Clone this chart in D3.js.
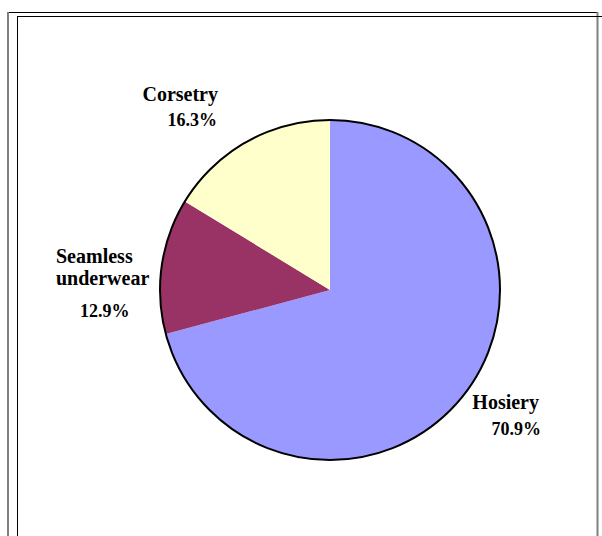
<!DOCTYPE html>
<html>
<head>
    <meta charset="utf-8">
    <script src="https://cdn.jsdelivr.net/npm/d3@7"></script>
    <style>
        body {
            margin: 0;
            background: #fff;
        }
        .label {
            font-family: "Liberation Serif", "Times New Roman", serif;
            font-weight: bold;
            font-size: 20px;
            fill: #000;
        }
        .label.pct {
            font-size: 18px;
        }
    </style>
</head>
<body>
<script>
    // data
    var categories = ["Hosiery", "Seamless underwear", "Corsetry"];
    var shares = [70.9, 12.9, 16.3];
    var colors = ["#9999ff", "#993366", "#ffffcc"];

    // label lines per slice (text only)
    var labelLines = [
        ["Hosiery", "70.9%"],
        ["Seamless", "underwear", "12.9%"],
        ["Corsetry", "16.3%"]
    ];

    var width = 602, height = 536;
    var cx = 330, cy = 290, radius = 170;

    // label placement relative to pie centre, one entry per line
    var labelLayout = [
        [{dx: 209, dy: 119, anchor: "end"}, {dx: 211, dy: 145, anchor: "end"}],
        [{dx: -274, dy: -27, anchor: "start"}, {dx: -274, dy: -5, anchor: "start"}, {dx: -250, dy: 27, anchor: "start"}],
        [{dx: -112, dy: -189, anchor: "end"}, {dx: -113, dy: -164, anchor: "end"}]
    ];

    var svg = d3.select("body").append("svg")
        .attr("width", width)
        .attr("height", height);

    // frame: outer box (black top, grey sides) and inner box
    svg.append("line").attr("x1", 7).attr("x2", 598).attr("y1", 12.5).attr("y2", 12.5)
        .attr("stroke", "#000").attr("stroke-width", 1);
    svg.append("line").attr("x1", 8).attr("x2", 8).attr("y1", 12).attr("y2", height)
        .attr("stroke", "#808080").attr("stroke-width", 2);
    svg.append("line").attr("x1", 597.5).attr("x2", 597.5).attr("y1", 12).attr("y2", height)
        .attr("stroke", "#808080").attr("stroke-width", 2);
    svg.append("line").attr("x1", 17).attr("x2", width).attr("y1", 16.5).attr("y2", 16.5)
        .attr("stroke", "#000").attr("stroke-width", 1);
    svg.append("line").attr("x1", 17.5).attr("x2", 17.5).attr("y1", 16).attr("y2", height)
        .attr("stroke", "#000").attr("stroke-width", 1);

    var pie = d3.pie()
        .sort(null)
        .value(function (d) { return d; });

    var arc = d3.arc()
        .innerRadius(0)
        .outerRadius(radius);

    var g = svg.append("g")
        .attr("transform", "translate(" + cx + "," + cy + ")");

    g.selectAll("path.slice")
        .data(pie(shares))
        .enter().append("path")
        .attr("class", "slice")
        .attr("d", arc)
        .attr("fill", function (d, i) { return colors[i]; });

    g.append("circle")
        .attr("r", radius)
        .attr("fill", "none")
        .attr("stroke", "#000")
        .attr("stroke-width", 2);

    categories.forEach(function (c, i) {
        labelLines[i].forEach(function (t, j) {
            var p = labelLayout[i][j];
            g.append("text")
                .attr("class", j === labelLines[i].length - 1 ? "label pct" : "label")
                .attr("x", p.dx)
                .attr("y", p.dy)
                .attr("text-anchor", p.anchor)
                .text(t);
        });
    });
</script>
</body>
</html>
